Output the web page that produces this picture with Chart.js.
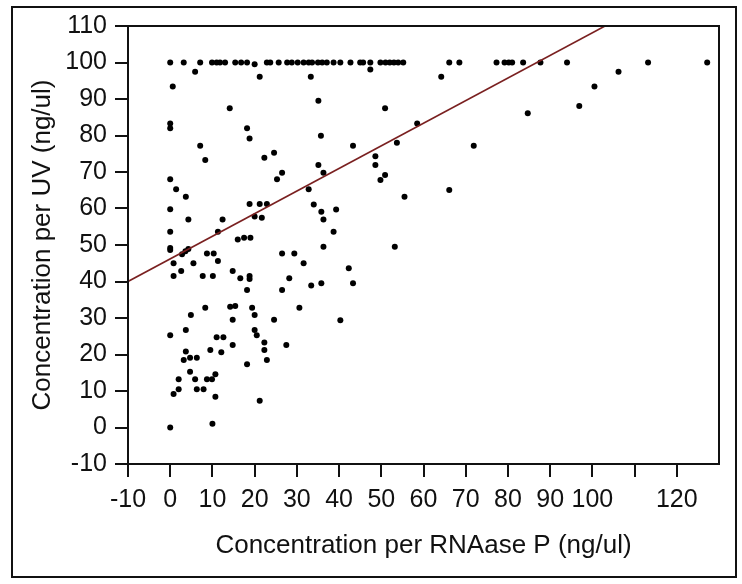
<!DOCTYPE html>
<html>
<head>
<meta charset="utf-8">
<script src="https://cdn.jsdelivr.net/npm/chart.js@4"></script>
<style>
  html, body { margin: 0; padding: 0; background: #fff; }
  #wrap { width: 742px; height: 584px; }
</style>
</head>
<body>
<div id="wrap"><canvas id="scatter" width="742" height="584"></canvas></div>
<script>
// === Data ===
const xTickValues = [-10, 0, 10, 20, 30, 40, 50, 60, 70, 80, 90, 100, 110, 120];
const xTickLabels = ["-10", "0", "10", "20", "30", "40", "50", "60", "70", "80", "90", "100", "", "120"];
const yTickValues = [-10, 0, 10, 20, 30, 40, 50, 60, 70, 80, 90, 100, 110];

// x = RNAase P concentration, y = UV concentration
const rnaseX = [
  0, 3.2, 7.1, 9.9, 11, 11.8, 13, 15.4, 16.8, 18.2, 20, 22.9, 23.7, 25.7, 27.7,
  28.8, 30.2, 31.6, 32.8, 33.6, 35, 36, 37.1, 38.7, 40.3, 42.7, 45, 45.7, 47.4, 49.8,
  51, 52, 53, 54, 55.2, 66.1, 68.5, 77.3, 79.2, 80.2, 81, 83.6, 87.7, 94, 113.2, 127.2,
  33.3, 21.2, 5.9, 47.4, 64.2, 106.2, 0.6, 100.5,
  35.1, 96.9, 14.1, 50.9, 84.7, 0, 0, 18.2, 58.5, 35.7, 18.8,
  7.1, 43.3, 71.9, 53.7, 24.6, 22.3, 8.3, 48.6, 48.6, 35.1,
  26.5, 36.3, 50.9, 49.8, 25.3, 0, 1.4, 32.8, 66.1, 3.7, 55.5,
  18.8, 21.2, 22.9, 34, 0, 39.3, 35.8, 4.3, 12.4, 20, 21.7, 36.3,
  0, 11.3, 38.7, 16, 17.5, 19, 0, 0, 36.3, 53.2,
  2.8, 3.6, 4.3, 8.7, 10.3, 26.5, 29.4, 0.8, 5.5, 11.3, 31.6,
  2.6, 14.8, 42.3, 0.8, 7.7, 10.1, 18.8, 18.8, 16.6, 28.2,
  33.4, 35.8, 43.3, 18.2, 26.5, 8.3, 14.2, 15.4, 19.4, 30.6,
  4.9, 20, 14.8, 24.6, 40.3, 0, 3.7, 20, 20.5,
  11, 12.6, 22.3, 27.5, 14.8, 9.5, 12.1, 3.7, 22.3,
  4.7, 6.3, 3.2, 22.9, 18.2, 4.7, 10.7,
  2, 5.9, 8.7, 9.9, 2, 6.3, 7.9, 0.8, 10.7, 21.2,
  0, 10
];
const uvY = [
  100, 100, 100, 100, 100, 100, 100, 100, 100, 100, 99.5, 100, 100, 100, 100,
  100, 100, 100, 100, 100, 100, 100, 100, 100, 100, 100, 100, 100, 100, 100,
  100, 100, 100, 100, 100, 100, 100, 100, 100, 100, 100, 100, 100, 100, 100, 100,
  96.1, 96.1, 97.5, 98.1, 96.1, 97.5, 93.4, 93.4,
  89.5, 88.1, 87.5, 87.5, 86.1, 83.3, 82, 82, 83.3, 79.9, 79.2,
  77.2, 77.2, 77.2, 78, 75.3, 73.9, 73.3, 74.3, 71.9, 71.9,
  69.8, 69.8, 69.2, 67.8, 68, 68, 65.3, 65.3, 65.1, 63.2, 63.2,
  61.2, 61.2, 61.2, 61.1, 59.8, 59.7, 59.1, 57, 57, 57.8, 57.5, 57,
  53.6, 53.6, 53.6, 51.5, 52, 52, 49.2, 48.6, 49.5, 49.5,
  47.5, 48.3, 48.9, 47.7, 47.7, 47.7, 47.7, 45, 45, 45.6, 45,
  42.9, 42.9, 43.6, 41.5, 41.5, 41.5, 41.5, 40.7, 40.9, 40.9,
  38.9, 39.5, 39.5, 37.7, 37.7, 32.8, 33.1, 33.3, 32.8, 32.8,
  30.8, 30.8, 29.5, 29.5, 29.4, 25.3, 26.7, 26.7, 25.3,
  24.7, 24.7, 23.3, 22.6, 22.6, 21.2, 20.6, 20.8, 21.2,
  19.1, 19.1, 18.5, 18.5, 17.3, 15.3, 14.6,
  13.2, 13.2, 13.2, 13.2, 10.5, 10.5, 10.5, 9.2, 8.4, 7.3,
  0, 1
];

// fitted line end points
const fitX = [-10, 103];
const fitY = [40, 110];

const FONT = "'Liberation Sans', Arial, sans-serif";
const TEXT = "#111";

// === Frame round the whole picture and the plot box ===
const frames = {
  id: "frames",
  afterDraw(chart) {
    const c = chart.ctx;
    const a = chart.chartArea;
    c.save();
    c.strokeStyle = "#111";
    c.lineWidth = 2;
    c.strokeRect(12, 7, 724, 570);
    c.strokeRect(a.left, a.top, a.right - a.left, a.bottom - a.top);
    c.restore();
  }
};

const ctx = document.getElementById("scatter").getContext("2d");
new Chart(ctx, {
  type: "scatter",
  data: {
    datasets: [
      {
        label: "fit",
        type: "line",
        data: fitX.map((x, i) => ({ x: x, y: fitY[i] })),
        borderColor: "#7a2020",
        borderWidth: 1.6,
        pointRadius: 0,
        fill: false
      },
      {
        label: "samples",
        data: rnaseX.map((x, i) => ({ x: x, y: uvY[i] })),
        backgroundColor: "#000",
        borderColor: "#000",
        borderWidth: 0,
        pointRadius: 3
      }
    ]
  },
  options: {
    responsive: false,
    animation: false,
    layout: { padding: { top: 26, right: 23, bottom: 0, left: 0 } },
    plugins: {
      legend: { display: false },
      tooltip: { enabled: false }
    },
    scales: {
      x: {
        type: "linear",
        min: -10,
        max: 130,
        afterBuildTicks: s => { s.ticks = xTickValues.map(v => ({ value: v })); },
        afterFit: s => { s.height = 120; },
        border: { display: false },
        grid: { drawOnChartArea: false, drawTicks: true, tickLength: 13, color: "#111", lineWidth: 2 },
        ticks: {
          color: TEXT,
          padding: 8,
          maxRotation: 0,
          autoSkip: false,
          font: { family: FONT, size: 25 },
          callback: v => xTickLabels[xTickValues.indexOf(v)]
        },
        title: {
          display: true,
          text: "Concentration per RNAase P (ng/ul)",
          color: TEXT,
          font: { family: FONT, size: 26 },
          padding: { top: 0, bottom: 23 }
        }
      },
      y: {
        min: -10,
        max: 110,
        afterBuildTicks: s => { s.ticks = yTickValues.map(v => ({ value: v })); },
        afterFit: s => { s.width = 128; },
        border: { display: false },
        grid: { drawOnChartArea: false, drawTicks: true, tickLength: 13, color: "#111", lineWidth: 2 },
        ticks: {
          color: TEXT,
          padding: 8,
          autoSkip: false,
          font: { family: FONT, size: 25 }
        },
        title: {
          display: true,
          text: "Concentration per UV (ng/ul)",
          color: TEXT,
          font: { family: FONT, size: 26 },
          padding: { top: 27, bottom: 0 }
        }
      }
    }
  },
  plugins: [frames]
});
</script>
</body>
</html>
